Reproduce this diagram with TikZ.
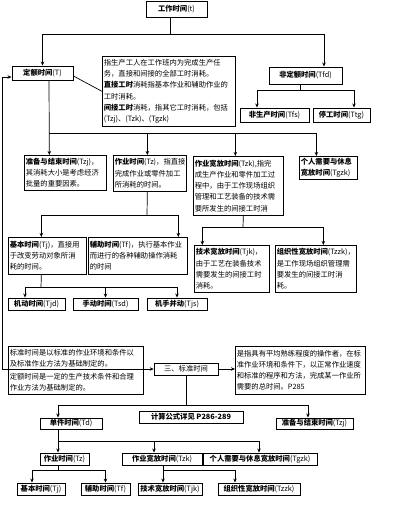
\documentclass[tikz,border=0pt]{standalone}
\usepackage{fontspec}
\setmainfont{Noto Sans CJK SC}
\usetikzlibrary{positioning}
\usetikzlibrary{calc}
\usetikzlibrary{arrows.meta}

\begin{document}
\begin{tikzpicture}[x=1pt, y=-1pt,
    box/.style={draw, line width=0.7pt, anchor=north west, align=left, inner sep=1.5pt, font=\fontsize{7.3}{11.2}\selectfont},
    lbl/.style={draw, line width=0.9pt, inner sep=0pt, font=\fontsize{7.3}{8}\selectfont},
    arr/.style={-{Stealth[length=4pt,width=3.5pt]}, line width=0.7pt},
    ln/.style={line width=0.7pt}]
        \useasboundingbox (0,0) rectangle (400,521);

        % Upper tree
        \node[lbl, minimum width=61pt, minimum height=16pt] (work) at (176.5,9) {\textbf{工作时间}(t)};
        \node[lbl, minimum width=61pt, minimum height=14pt] (quota) at (42.5,73) {\textbf{定额时间}(T)};
        \node[lbl, minimum width=73pt, minimum height=17pt] (nonquota) at (305.5,75.5) {\textbf{非定额时间}(Tfd)};
        \node[lbl, minimum width=69pt, minimum height=14pt] (nonprod) at (274.5,115) {\textbf{非生产时间}(Tfs)};
        \node[lbl, minimum width=57pt, minimum height=14pt] (stop) at (341.5,115) {\textbf{停工时间}(Ttg)};
        \node[box, text width=130pt, minimum height=70pt] (quotadesc) at (102,56) {指生产工人在工作班内为完成生产任\\务，直接和间接的全部工时消耗。\\\textbf{直接工时}消耗指基本作业和辅助作业的\\工时消耗。\\\textbf{间接工时}消耗，指其它工时消耗，包括\\(Tzj)、(Tzk)、(Tgzk)};

        \node[box, text width=79pt, minimum height=35pt] (prep) at (24,155) {\textbf{准备与结束时间}(Tzj)，\\其消耗大小是考虑经济\\批量的重要因素。};
        \node[box, text width=70pt, minimum height=36pt] (oper) at (113,155) {\textbf{作业时间}(Tz)，指直接\\完成作业或零件加工\\所消耗的时间。};
        \node[box, text width=87pt, minimum height=59pt] (allow) at (193,156) {\textbf{作业宽放时间}(Tzk),指完\\成生产作业和零件加工过\\程中，由于工作现场组织\\管理和工艺装备的技术需\\要所发生的间接工时消};
        \node[box, text width=55pt, minimum height=23pt] (pers) at (299,156) {\textbf{个人需要与休息}\\\textbf{宽放时间}(Tgzk)};

        \node[box, text width=75pt, minimum height=37pt] (basic) at (8,237) {\textbf{基本时间}(Tj)，直接用\\于改变劳动对象所消\\耗的时间。};
        \node[box, text width=96pt, minimum height=37pt] (aux) at (88,237) {\textbf{辅助时间}(Tf)，执行基本作业\\而进行的各种辅助操作消耗\\的时间};
        \node[box, text width=72pt, minimum height=47pt] (tech) at (194,245) {\textbf{技术宽放时间}(Tjk)，\\由于工艺在装备技术\\需要发生的间接工时\\消耗。};
        \node[box, text width=78pt, minimum height=47pt] (org) at (275,245) {\textbf{组织性宽放时间}(Tzzk)，\\是工作现场组织管理需\\要发生的间接工时消\\耗。};

        \node[lbl, minimum width=57pt, minimum height=12pt] (machine) at (36.5,304) {\textbf{机动时间}(Tjd)};
        \node[lbl, minimum width=65pt, minimum height=12pt] (hand) at (105.5,304) {\textbf{手动时间}(Tsd)};
        \node[lbl, minimum width=60pt, minimum height=12pt] (both) at (177,304) {\textbf{机手并动}(Tjs)};

        \coordinate (t1) at (170,34);
        \draw[ln] ([xshift=-6.5pt]work.south) -- (t1);
        \draw[arr] (t1) -| (quota.north);
        \draw[arr] (t1) -| ([xshift=18.5pt]nonquota.north);
        \draw[ln] ([yshift=-3pt]quota.east) -- (quotadesc.west);

        \coordinate (t2) at (300,90);
        \draw[ln] ([xshift=-5.5pt]nonquota.south) -- (t2);
        \draw[arr] (t2) -| ([xshift=-17.5pt]nonprod.north);
        \draw[arr] (t2) -| ([xshift=12.5pt]stop.north);

        \coordinate (t3) at (49,133);
        \draw[arr] ([xshift=6.5pt]quota.south) -- ([xshift=-16pt]prep.north);
        \draw[arr] (t3) -| ([xshift=-2.5pt]oper.north);
        \draw[arr] (t3) -| ([xshift=-3pt]allow.north);
        \draw[arr] (t3) -| ([xshift=-12pt]pers.north);

        \coordinate (t4) at (147,215);
        \draw[ln] ([xshift=-2.5pt]oper.south) -- (t4);
        \draw[arr] (t4) -| ([xshift=-6pt]basic.north);
        \draw[arr] (t4) -| ([xshift=40.5pt]aux.north);

        \coordinate (t5) at (243,227);
        \draw[ln] ([xshift=5pt]allow.south) -- (t5);
        \draw[arr] (t5) -| ([xshift=-29.5pt]tech.north);
        \draw[arr] (t5) -| ([xshift=7.5pt]org.north);

        \coordinate (t6) at (41,287);
        \draw[ln] ([xshift=-6pt]basic.south) -- (t6);
        \draw[arr] (t6) -| ([xshift=-11.5pt]machine.north);
        \draw[arr] (t6) -| (hand.north);
        \draw[arr] (t6) -| (both.north);

        % Lower tree
        \node[box, text width=132pt, minimum height=23pt] (stdA) at (8,346) {标准时间是以标准的作业环境和条件以\\及标准作业方法为基础制定的。};
        \node[box, text width=132pt, minimum height=25pt] (stdB) at (8,369) {定额时间是一定的生产技术条件和合理\\作业方法为基础制定的。};
        \node[lbl, line width=0.7pt, font=\fontsize{7.3}{8}\selectfont, minimum width=64pt, minimum height=12pt] (std3) at (186,369) {三、标准时间};
        \node[box, text width=127pt, minimum height=48pt] (stdC) at (235,346) {是指具有平均熟练程度的操作者，在标\\准作业环境和条件下，以正常作业速度\\和标准的程序和方法，完成某一作业所\\需要的总时间。P285};
        \node[lbl, minimum width=104pt, minimum height=12pt] (calc) at (191,417) {\textbf{计算公式详见 P286-289}};
        \node[lbl, minimum width=62pt, minimum height=11pt] (piece) at (71,423.5) {\textbf{单件时间}(Td)};
        \node[lbl, minimum width=77pt, minimum height=11pt] (prep2) at (314.5,423.5) {\textbf{准备与结束时间}(Tzj)};
        \node[lbl, minimum width=49pt, minimum height=12pt] (oper2) at (64.5,459) {\textbf{作业时间}(Tz)};
        \node[lbl, minimum width=80pt, minimum height=12pt] (allow2) at (162,459) {\textbf{作业宽放时间}(Tzk)};
        \node[lbl, minimum width=114pt, minimum height=12pt] (pers2) at (260,459) {\textbf{个人需要与休息宽放时间}(Tgzk)};
        \node[lbl, minimum width=48pt, minimum height=12pt] (basic2) at (41,489) {\textbf{基本时间}(Tj)};
        \node[lbl, minimum width=49pt, minimum height=12pt] (aux2) at (105.5,489) {\textbf{辅助时间}(Tf)};
        \node[lbl, minimum width=64pt, minimum height=12pt] (tech2) at (170,489) {\textbf{技术宽放时间}(Tjk)};
        \node[lbl, minimum width=82pt, minimum height=12pt] (org2) at (259,489) {\textbf{组织性宽放时间}(Tzzk)};

        \coordinate (t7) at (2,369);
        \draw[arr] (stdB.north west) -- (t7) |- ([yshift=-4pt]quota.west);
        \draw[arr] (stdB.north east) -- (std3.west);
        \draw[arr] (std3.east) -- (std3.east -| stdC.west);

        \coordinate (t8) at (186,405);
        \draw[ln] (std3.south) -- (t8);
        \draw[arr] (t8) -| ([xshift=-13pt]piece.north);
        \draw[arr] (t8) -| ([xshift=-6.5pt]prep2.north);

        \coordinate (t9) at (58,441);
        \draw[arr] ([xshift=-13pt]piece.south) -- ([xshift=-6.5pt]oper2.north);
        \draw[arr] (t9) -| ([xshift=-8pt]allow2.north);
        \draw[arr] (t9) -| ([xshift=-1pt]pers2.north);

        \coordinate (t10) at (58,470);
        \draw[ln] ([xshift=-6.5pt]oper2.south) -- (t10);
        \draw[arr] (t10) -| ([xshift=-9pt]basic2.north);
        \draw[arr] (t10) -| (aux2.north);

        \coordinate (t11) at (163,470);
        \draw[arr] ([xshift=1pt]allow2.south) -- ([xshift=-7pt]tech2.north);
        \draw[arr] (t11) -| ([xshift=-24pt]org2.north);
      \end{tikzpicture}
\end{document}
